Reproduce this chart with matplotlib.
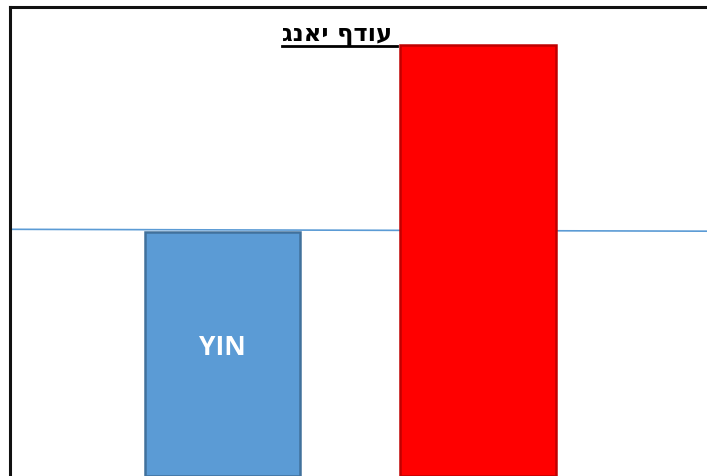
import matplotlib
matplotlib.use('Agg')

import matplotlib.pyplot as plt
from matplotlib.lines import Line2D

categories = ['YIN', 'YANG']
values = [52.0, 91.9]
ref_line = [52.6, 52.2]
title = 'עודף יאנג'

W, H = 707, 477
fig = plt.figure(figsize=(W / 100, H / 100), dpi=100)
ax = fig.add_axes([10 / W, 0, 1 - 10 / W, 1 - 8 / H])

xlim = (-0.832, 1.896)
ax.set_xlim(*xlim)
ax.set_ylim(0, 100)

bars = ax.bar(range(len(categories)), values, width=0.609,
              color=['#5B9BD5', '#FF0000'], edgecolor=['#41719C', '#C00000'],
              linewidth=1.8, zorder=2)

# reference line sits behind the bars
ax.plot(list(xlim), ref_line, color='#5B9BD5', lw=1.2, zorder=1)

# only the blue bar carries its label
ax.text(0, 27.7, categories[0], ha='center', va='center', color='white',
        fontsize=19, fontweight='bold', family=['Open Sans', 'DejaVu Sans'])

ax.set_xticks([])
ax.set_yticks([])
for side in ['right', 'bottom']:
    ax.spines[side].set_visible(False)
for side in ['left', 'top']:
    ax.spines[side].set_linewidth(2.2)
    ax.spines[side].set_color('#111111')

# hebrew title: reverse for visual order, then draw an underline under it
t = fig.text(337 / W, 1 - 35 / H, title[::-1], ha='center', va='center',
             fontsize=17.5, fontweight='bold', family=['DejaVu Sans'])
fig.canvas.draw()
bb = t.get_window_extent(fig.canvas.get_renderer())
uy = (H - 47) / H
fig.add_artist(Line2D([bb.x0 / W, (bb.x1 + 5) / W], [uy, uy],
                      color='black', lw=2.0, transform=fig.transFigure))

fig.savefig('out.png', dpi=100)
